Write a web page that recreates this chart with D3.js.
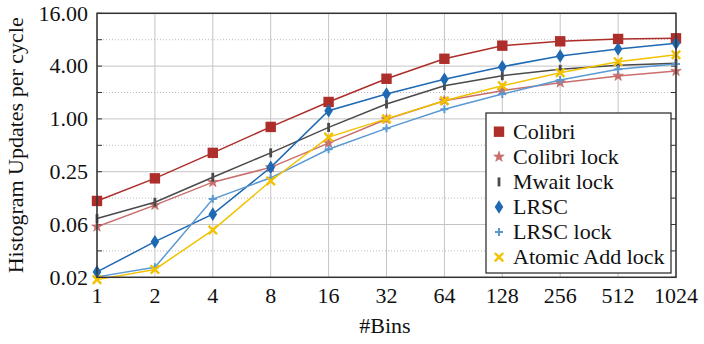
<!DOCTYPE html>
<html>
<head>
<meta charset="utf-8">
<script src="https://cdn.jsdelivr.net/npm/d3@7"></script>
<style>
  body { margin: 0; background: #fff; }
</style>
</head>
<body>
<div id="chart"></div>
<script>
// data
const bins = [1, 2, 4, 8, 16, 32, 64, 128, 256, 512, 1024];
const colibri      = [0.116, 0.21, 0.41, 0.81, 1.56, 2.87, 4.85, 6.84, 7.67, 8.15, 8.3];
const colibriLock  = [0.059, 0.104, 0.19, 0.28, 0.53, 0.99, 1.61, 2.10, 2.59, 3.09, 3.51];
const mwaitLock    = [0.073, 0.112, 0.216, 0.41, 0.80, 1.48, 2.39, 3.11, 3.68, 4.08, 4.31];
const lrsc         = [0.018, 0.0398, 0.082, 0.28, 1.24, 1.92, 2.83, 3.94, 5.21, 6.27, 7.27];
const lrscLock     = [0.0158, 0.0203, 0.122, 0.213, 0.45, 0.78, 1.29, 1.92, 2.78, 3.68, 4.23];
const atomicAdd    = [0.0147, 0.0192, 0.054, 0.196, 0.62, 1.0, 1.61, 2.39, 3.36, 4.49, 5.39];

const yTicks = [1/64, 1/16, 1/4, 1, 4, 16];
const yTickLabels = ["0.02", "0.06", "0.25", "1.00", "4.00", "16.00"];
const yMinor = [1/32, 1/8, 1/2, 2, 8];

const series = [
  { name: "Colibri", values: colibri, color: "#ad2e2a", marker: "square" },
  { name: "Colibri lock", values: colibriLock, color: "#c86f6d", marker: "star" },
  { name: "Mwait lock", values: mwaitLock, color: "#4a4a4a", marker: "bar" },
  { name: "LRSC", values: lrsc, color: "#1f69b3", marker: "diamond" },
  { name: "LRSC lock", values: lrscLock, color: "#5a99d2", marker: "plus" },
  { name: "Atomic Add lock", values: atomicAdd, color: "#f2c200", marker: "cross" }
];

const W = 704, H = 344;
const pLeft = 97, pRight = 676, pTop = 13.3, pBottom = 277.3;
const FONT = "'Liberation Serif', 'Times New Roman', Times, serif";
const FS = 22;

const svg = d3.select("#chart").append("svg")
  .attr("width", W).attr("height", H)
  .attr("font-family", FONT);

const x = d3.scaleLog().base(2).domain([1, 1024]).range([pLeft, pRight]);
const y = d3.scaleLog().base(2).domain([1 / 64, 16]).range([pBottom, pTop]);

// grid
const grid = svg.append("g");
grid.selectAll("line.vx").data(bins).enter().append("line")
  .attr("x1", d => x(d)).attr("x2", d => x(d))
  .attr("y1", pTop).attr("y2", pBottom)
  .attr("stroke", "#c4c4c4").attr("stroke-width", 1);
grid.selectAll("line.hy").data(yTicks).enter().append("line")
  .attr("x1", pLeft).attr("x2", pRight)
  .attr("y1", d => y(d)).attr("y2", d => y(d))
  .attr("stroke", "#c4c4c4").attr("stroke-width", 1);
grid.selectAll("line.hm").data(yMinor).enter().append("line")
  .attr("x1", pLeft).attr("x2", pRight)
  .attr("y1", d => y(d)).attr("y2", d => y(d))
  .attr("stroke", "#aaa").attr("stroke-width", 0.8)
  .attr("stroke-dasharray", "1,2");

// inward ticks on left and right
const allY = yTicks.concat(yMinor);
svg.append("g").selectAll("line").data(allY).enter().append("line")
  .attr("x1", pLeft).attr("x2", pLeft + 5)
  .attr("y1", d => y(d)).attr("y2", d => y(d))
  .attr("stroke", "#333");
svg.append("g").selectAll("line").data(allY).enter().append("line")
  .attr("x1", pRight).attr("x2", pRight - 5)
  .attr("y1", d => y(d)).attr("y2", d => y(d))
  .attr("stroke", "#333");

// tick labels
svg.append("g").selectAll("text").data(yTicks).enter().append("text")
  .attr("x", pLeft - 9).attr("y", d => y(d) + 7.2)
  .attr("text-anchor", "end").attr("font-size", FS).attr("fill", "#111")
  .text((d, i) => yTickLabels[i]);
svg.append("g").selectAll("text").data(bins).enter().append("text")
  .attr("x", d => x(d)).attr("y", pBottom + 25.5)
  .attr("text-anchor", "middle").attr("font-size", FS).attr("fill", "#111")
  .text(d => d);

// axis titles
svg.append("text")
  .attr("x", 385).attr("y", 333.3)
  .attr("text-anchor", "middle").attr("font-size", FS).attr("fill", "#111")
  .text("#Bins");
svg.append("text")
  .attr("transform", `translate(23, ${(pTop + pBottom) / 2}) rotate(-90)`)
  .attr("text-anchor", "middle").attr("font-size", FS).attr("fill", "#111")
  .text("Histogram Updates per cycle");

// marker shapes
function drawMarker(g, kind, color) {
  if (kind === "square") {
    g.append("rect").attr("x", -5.2).attr("y", -5.2).attr("width", 10.4).attr("height", 10.4)
      .attr("fill", color);
  } else if (kind === "star") {
    g.append("path").attr("d", d3.symbol().type(d3.symbolStar).size(34)())
      .attr("fill", color).attr("stroke", color).attr("stroke-width", 0.8);
  } else if (kind === "bar") {
    g.append("rect").attr("x", -1.4).attr("y", -4.5).attr("width", 2.8).attr("height", 9)
      .attr("fill", color);
  } else if (kind === "diamond") {
    g.append("path").attr("d", "M0,-6.8L4.3,0L0,6.8L-4.3,0Z").attr("fill", color);
  } else if (kind === "plus") {
    g.append("path").attr("d", "M-4,0H4M0,-4V4").attr("stroke", color).attr("stroke-width", 2);
  } else if (kind === "cross") {
    g.append("path").attr("d", "M-4.2,-4.2L4.2,4.2M-4.2,4.2L4.2,-4.2").attr("stroke", color).attr("stroke-width", 2.4);
  }
}

const line = d3.line().x(d => x(d[0])).y(d => y(d[1]));

series.forEach(s => {
  const pts = bins.map((b, i) => [b, s.values[i]]);
  const g = svg.append("g");
  g.append("path").datum(pts).attr("d", line)
    .attr("fill", "none").attr("stroke", s.color).attr("stroke-width", 1.5);
  g.selectAll("g").data(pts).enter().append("g")
    .attr("transform", d => `translate(${x(d[0])},${y(d[1])})`)
    .each(function () { drawMarker(d3.select(this), s.marker, s.color); });
});

// frame
svg.append("rect").attr("x", pLeft).attr("y", pTop)
  .attr("width", pRight - pLeft).attr("height", pBottom - pTop)
  .attr("fill", "none").attr("stroke", "#333").attr("stroke-width", 1.5);

// legend
const lg = svg.append("g").attr("transform", "translate(486,113)");
lg.append("rect").attr("width", 185).attr("height", 160)
  .attr("fill", "#fff").attr("stroke", "#222").attr("stroke-width", 1.2);
series.forEach((s, i) => {
  const row = lg.append("g").attr("transform", `translate(0,${18.7 + i * 25.1})`);
  const m = row.append("g").attr("transform", "translate(13,0)");
  drawMarker(m, s.marker, s.color);
  row.append("text").attr("x", 27).attr("y", 7)
    .attr("font-size", FS).attr("fill", "#111").text(s.name);
});
</script>
</body>
</html>
